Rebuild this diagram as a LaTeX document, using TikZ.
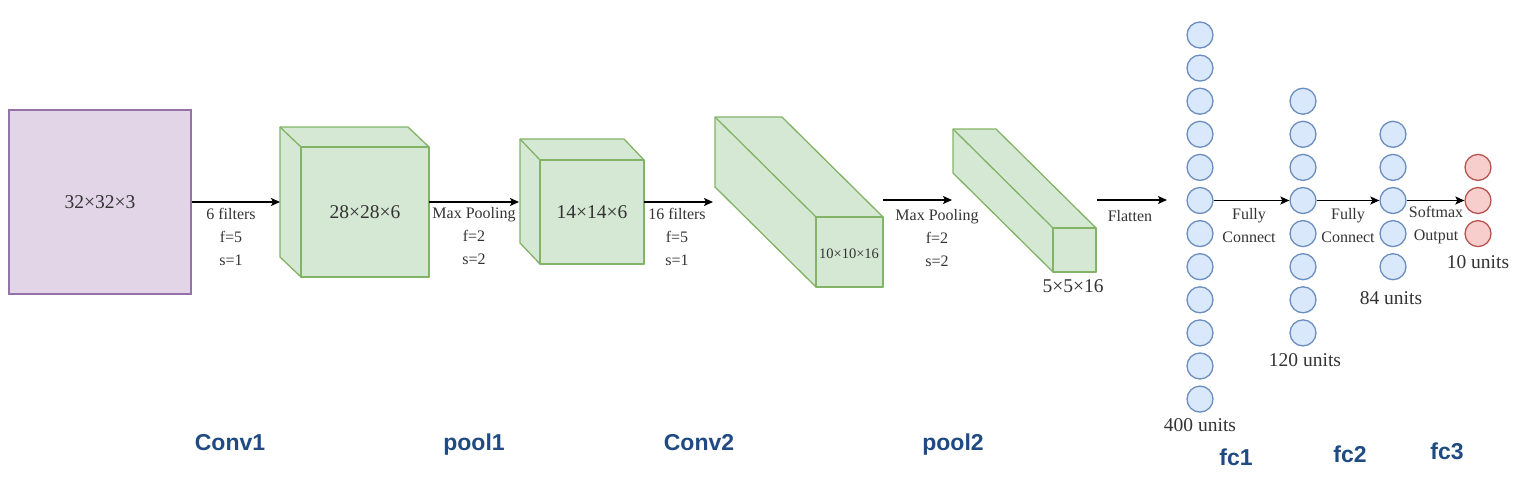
\documentclass[tikz,border=0pt]{standalone}
\usepackage{fontspec}
\setmainfont{Liberation Serif}
\setsansfont{Liberation Sans}
\usetikzlibrary{arrows.meta}
\definecolor{purpF}{HTML}{E1D5E7}
\definecolor{purpS}{HTML}{9673A6}
\definecolor{grnF}{HTML}{D5E8D4}
\definecolor{grnS}{HTML}{82B366}
\definecolor{bluF}{HTML}{DAE8FC}
\definecolor{bluS}{HTML}{6C8EBF}
\definecolor{redF}{HTML}{F8CECC}
\definecolor{redS}{HTML}{B85450}
\definecolor{txt}{HTML}{333333}
\definecolor{lblue}{HTML}{1F4A82}
\tikzset{
  purp/.style={draw=purpS, fill=purpF, line width=1.3},
  cubeface/.style={draw=grnS, fill=grnF, line width=1.3, line join=round},
  neuron/.style={circle, draw=bluS, fill=bluF, line width=1.3, minimum size=26, inner sep=0},
  outn/.style={circle, draw=redS, fill=redF, line width=1.3, minimum size=26, inner sep=0},
  arr/.style={-{Stealth[length=9,width=8,inset=2]}, line width=1.4},
  small/.style={font=\rmfamily\fontsize{16}{23}\selectfont, text=txt, align=center, inner sep=0},
  big/.style={font=\rmfamily\fontsize{19.5}{22}\selectfont, text=txt},
  lab/.style={font=\sffamily\bfseries\fontsize{23}{26}\selectfont, text=lblue, inner sep=0}
}
% #1 name, #2 x1, #3 y1, #4 x2, #5 y2 (front face), #6 dx, #7 dy (back offset up-left)
\newcommand\greenbox[7]{%
  \draw[cubeface] (#2-#6,#3-#7) -- (#4-#6,#3-#7) -- (#4,#3) -- (#4,#5) -- (#2,#5) -- (#2-#6,#5-#7) -- cycle;
  \draw[cubeface] (#2,#3) -- (#2-#6,#3-#7);
  \node[cubeface, minimum width={#4-#2}, minimum height={#5-#3}, inner sep=0] (#1) at ({(#2+#4)/2},{(#3+#5)/2}) {};
}
\begin{document}
\begin{tikzpicture}[x=1pt,y=-1pt]
\useasboundingbox (0,0) rectangle (1528,482);
% input
\node[purp, minimum width=182, minimum height=184, inner sep=0, big] (inp) at (100,202) {32×32×3};
% cubes
\greenbox{c1}{301}{147}{429}{277}{21}{20}
\node[big] (t1) at (c1) {28×28×6};
\greenbox{c2}{540}{160}{644}{264}{20}{21}
\node[big] (t2) at (c2) {14×14×6};
\greenbox{c3}{816}{217}{883}{287}{101}{100}
\node[font=\rmfamily\fontsize{14.5}{16}\selectfont, text=txt, inner sep=0] (t3) at (849,254) {10×10×16};
\greenbox{c4}{1053}{228}{1096}{272}{100}{99}
\node[big, inner sep=0] (t4) at (1073,286) {5×5×16};
% arrow end points
\coordinate (c1w) at (280,202);
\coordinate (c1e) at (429,202);
\coordinate (c2w) at (519,202);
\coordinate (c2e) at (644,202);
\coordinate (c3w) at (713,202);
\coordinate (c3e) at (883,200);
\coordinate (c4w) at (952,200);
\coordinate (c4e) at (1097,200);
\coordinate (flt) at (1167,200);
\draw[arr] (inp.east) -- (c1w);
\draw[arr] (c1e) -- (c2w);
\draw[arr] (c2e) -- (c3w);
\draw[arr] (c3e) -- (c4w);
\draw[arr] (c4e) -- (flt);
% arrow labels
\node[small] (l1) at (231,237) {6 filters\\f=5\\s=1};
\node[small] (l2) at (474,236) {Max Pooling\\f=2\\s=2};
\node[small] (l3) at (677,237) {16 filters\\f=5\\s=1};
\node[small] (l4) at (937,238) {Max Pooling\\f=2\\s=2};
\node[small] (l5) at (1130,216) {Flatten};
% neurons (rows share one grid so the arrows are level)
\foreach \i in {1,...,12} \node[neuron] (f1-\i) at (1200,{35+33.1*(\i-1)}) {};
\foreach \i in {1,...,8} \node[neuron] (f2-\i) at (1303,{35+33.1*(\i+1)}) {};
\foreach \i in {1,...,5} \node[neuron] (f3-\i) at (1393,{35+33.1*(\i+2)}) {};
\foreach \i in {1,...,3} \node[outn] (o-\i) at (1478,{35+33.1*(\i+3)}) {};
\draw[arr] (f1-6.east) -- (f2-4.west);
\draw[arr] (f2-4.east) -- (f3-3.west);
\draw[arr] (f3-3.east) -- (o-2.west);
\node[small] (l6) at (1249,226) {Fully\\Connect};
\node[small] (l7) at (1348,226) {Fully\\Connect};
\node[small] (l8) at (1436,225) {Softmax\\Output};
\node[big, inner sep=0] (u1) at (1200,425) {400 units};
\node[big, inner sep=0] (u2) at (1305,360) {120 units};
\node[big, inner sep=0] (u3) at (1391,298) {84 units};
\node[big, inner sep=0] (u4) at (1478,262) {10 units};
% layer labels
\node[lab] (n1) at (230,443) {Conv1};
\node[lab] (n2) at (474,445) {pool1};
\node[lab] (n3) at (699,443) {Conv2};
\node[lab] (n4) at (953,445) {pool2};
\node[lab] (n5) at (1236,457) {fc1};
\node[lab] (n6) at (1350,454) {fc2};
\node[lab] (n7) at (1447,451) {fc3};
\end{tikzpicture}
\end{document}
